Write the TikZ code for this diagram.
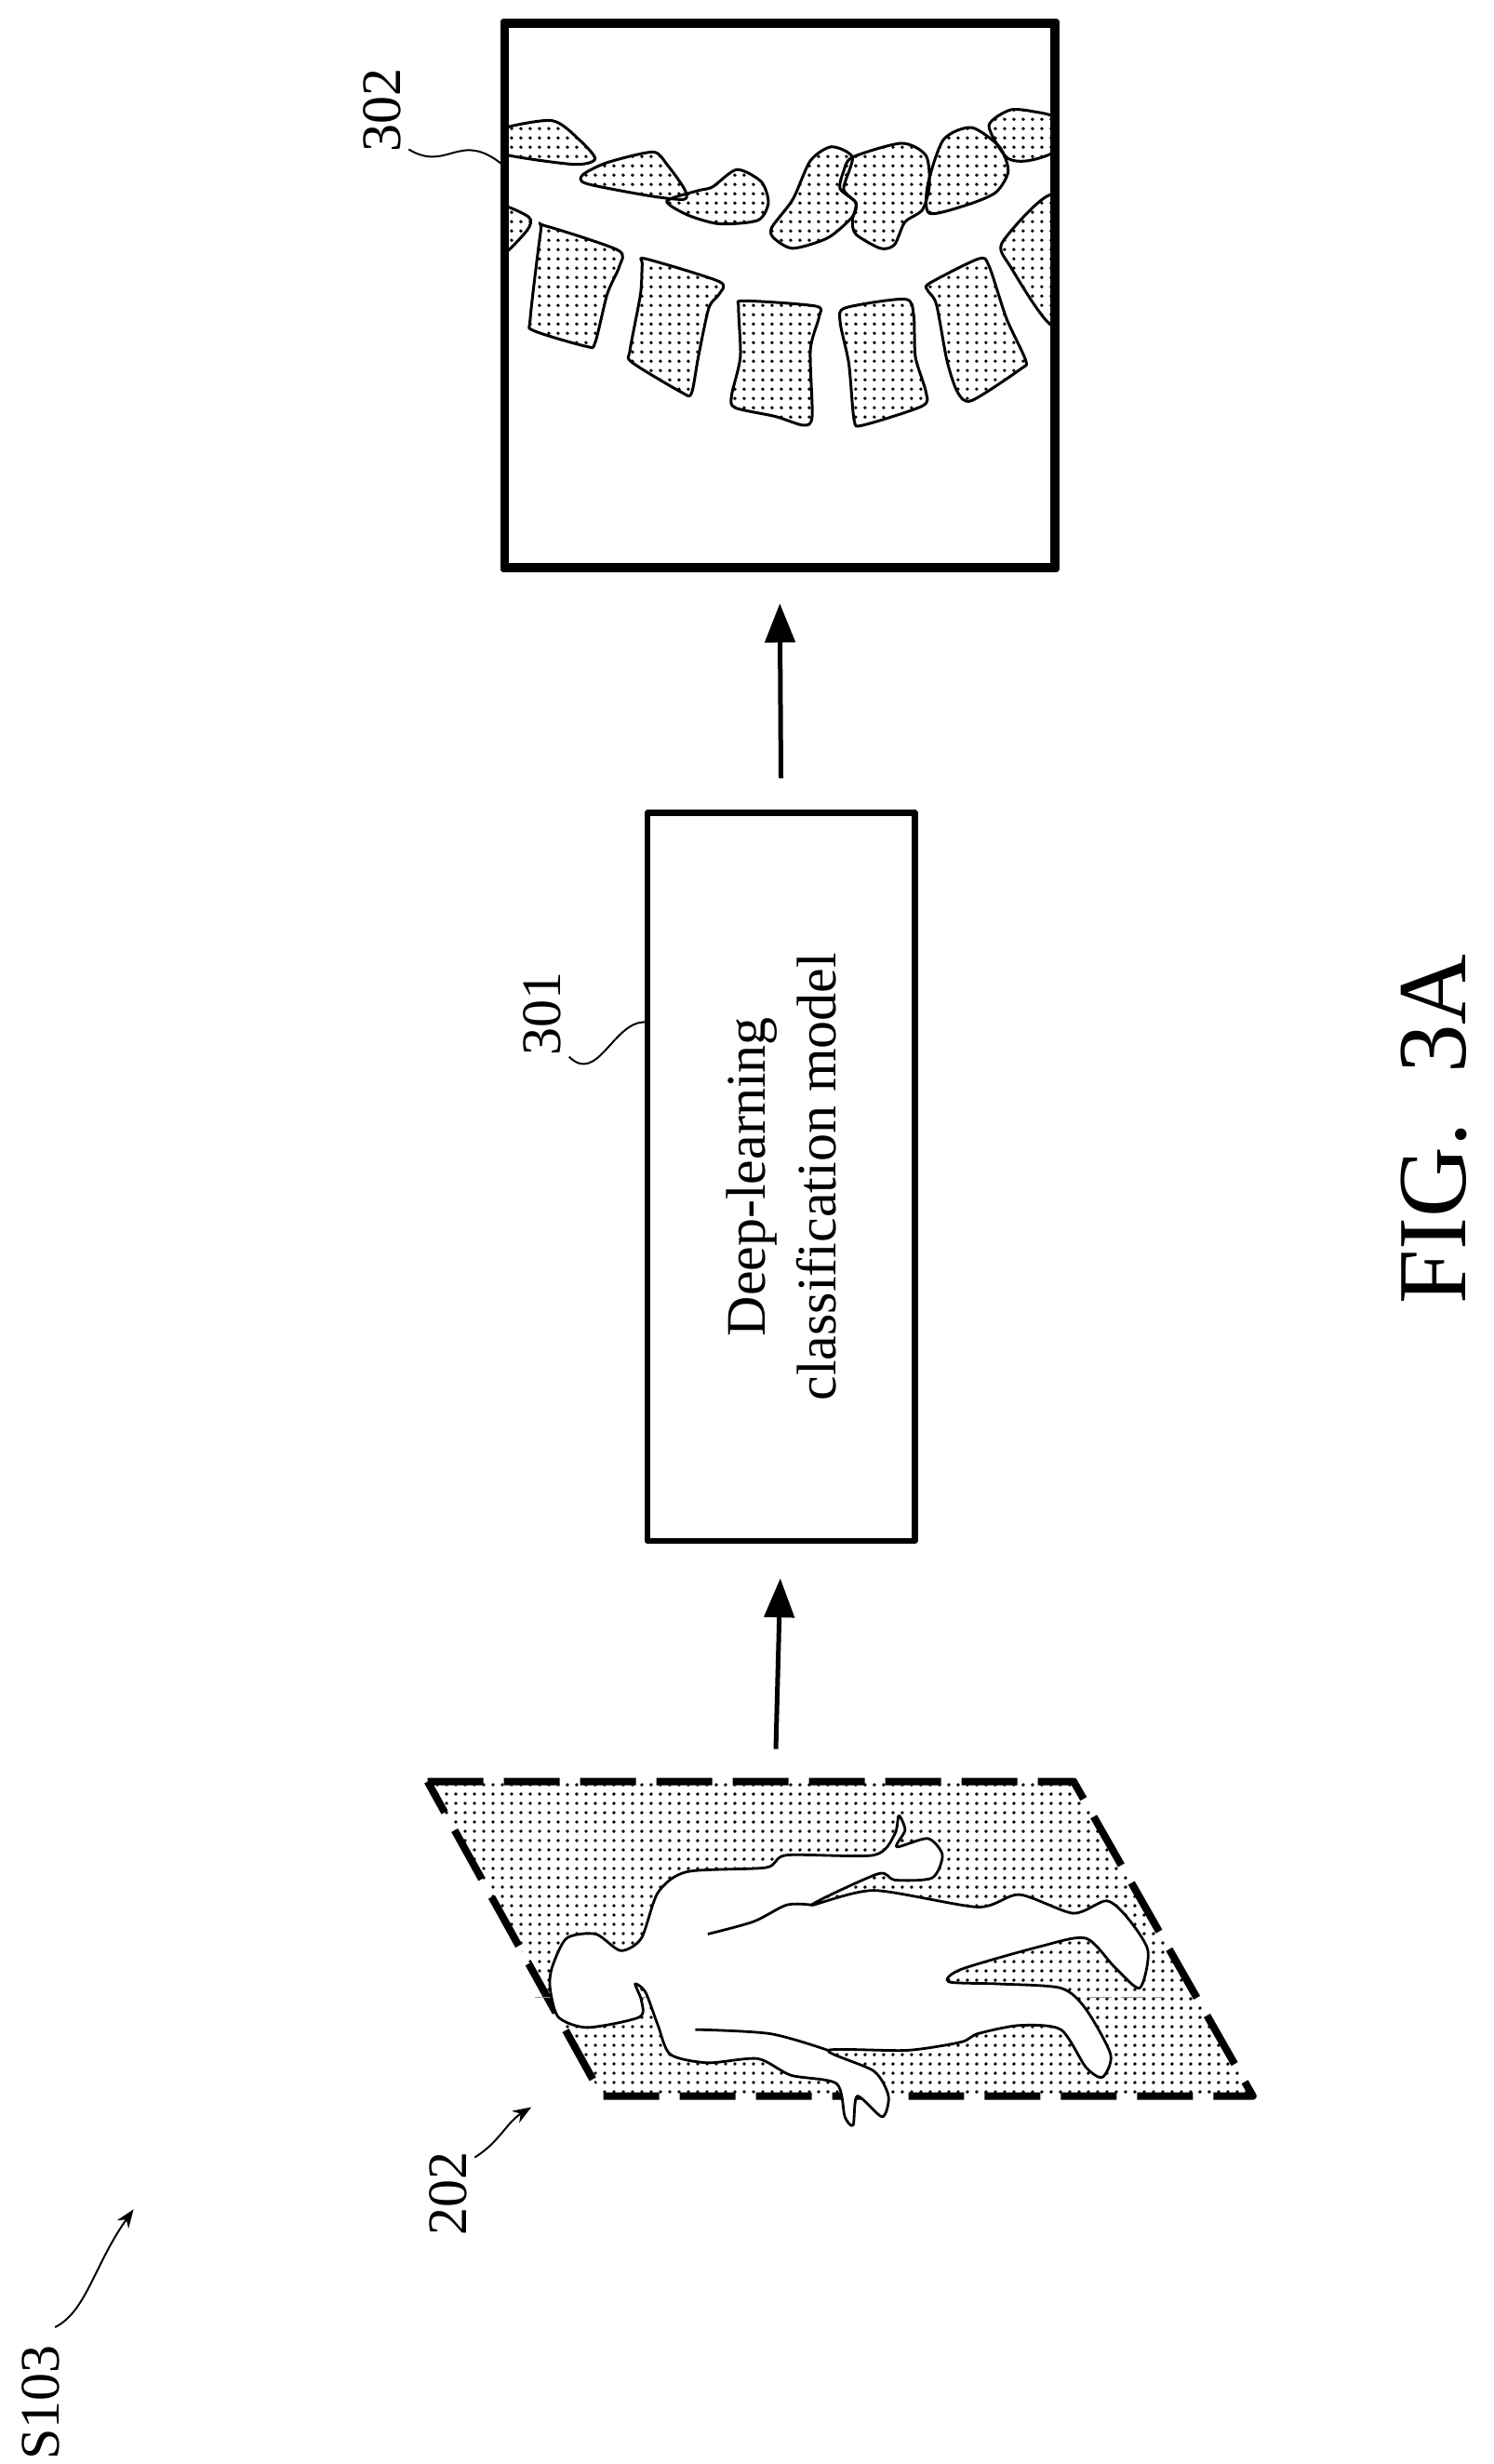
\documentclass[tikz,border=0pt]{standalone}
\usepackage{fontspec}
\setmainfont{Liberation Serif}
\usetikzlibrary{patterns.meta,arrows.meta}

\begin{document}
\begin{tikzpicture}[x=1.69pt, y=-1.69pt,
    >={Triangle[length=42pt,width=32pt]},
    line join=round,
    ]
\tikzset{
  box/.style={draw, line width=6.5pt},
  dotfill/.style={pattern={Dots[distance=10pt, radius=1.9pt]}},
  bone/.style={draw, line width=3pt, dotfill},
  lbl/.style={font=\fontsize{60}{70}\selectfont, rotate=90},
  lead/.style={line width=2pt},
  flow/.style={->, line width=5pt},
}
\useasboundingbox (0,0) rectangle (950,1567);
% -------------------------------------------------
% Output image with the spine
\node [box, minimum width=348*1.69pt, minimum height=344*1.69pt, inner sep=0pt,
  anchor=north west] (img) at (320,14) {};
\begin{scope}
  \clip (320,14) rectangle (668,358);
  \begin{scope}[shift={(319.5,53.25)}, x=0.3764pt, y=-0.3764pt]
  \foreach \p in {
    {(-20,135) (140,105) (220,160) (265,215) (200,230) (-20,195)},
    {(230,260) (300,225) (430,195) (470,230) (520,300) (520,330) (420,320) (240,285)},
    {(470,335) (560,305) (600,295) (670,245) (740,280) (760,340) (730,390) (620,400) (530,375)},
    {(770,410) (830,330) (880,220) (940,180) (1000,210) (975,300) (1010,340) (1000,380) (930,440) (830,470) (775,440)},
    {(1000,210) (1140,170) (1210,205) (1220,290) (1200,360) (1150,395) (1120,460) (1080,470) (1010,430) (1000,390) (1010,340) (965,300) (975,250)},
    {(1215,290) (1260,160) (1340,125) (1420,180) (1445,250) (1410,310) (1330,345) (1220,370)},
    {(1390,120) (1450,75) (1520,80) (1580,100) (1580,190) (1500,220) (1440,210)},
    {(-20,350) (75,380) (70,420) (-20,500)},
    {(1580,320) (1430,450) (1450,520) (1580,690)},
    {(120,405) (330,475) (335,520) (300,600) (265,740) (240,750) (90,705) (80,670) (110,420)},
    {(410,500) (620,565) (620,600) (590,640) (560,780) (540,885) (510,880) (370,795) (365,760) (395,600) (400,515)},
    {(690,620) (895,635) (905,665) (880,760) (885,950) (860,975) (780,950) (665,925) (655,890) (680,780) (675,640)},
    {(980,640) (1150,615) (1175,660) (1180,780) (1210,880) (1200,920) (1030,975) (1005,960) (990,800) (965,680)},
    {(1220,570) (1360,500) (1390,520) (1440,670) (1495,790) (1480,815) (1340,905) (1300,880) (1270,790) (1240,630) (1215,590)}}
    \draw [bone] plot [smooth cycle, tension=0.45] coordinates {\p};
  \end{scope}
\end{scope}
\draw [box] (img.north west) rectangle (img.south east);
\node [lbl] (l302) at (243,70) {302};
\draw [lead] (260,95) .. controls (285,110) and (292,82) .. (320,105);
% -------------------------------------------------
% Classification model
\node [box, minimum width=170*1.69pt, minimum height=463*1.69pt, inner sep=0pt,
  anchor=north west] (model) at (410,515) {};
\node [font=\fontsize{60}{76}\selectfont, rotate=90, align=center] at (model.center)
  {Deep-learning\\classification model};
\node [lbl] (l301) at (345,645) {301};
\draw [lead] (362,672) .. controls (380,690) and (390,650) .. (410,650);
% -------------------------------------------------
% Input image
\coordinate (p1) at (272,1133);
\coordinate (p2) at (683,1133);
\coordinate (p3) at (797,1333);
\coordinate (p4) at (383,1333);
\fill [dotfill] (p1) -- (p2) -- (p3) -- (p4) -- cycle;
\draw [line width=8pt, dash pattern=on 60pt off 22pt] (p1) -- (p2) -- (p3) -- (p4) -- cycle;
\draw [line width=1pt, black!40, dash pattern=on 25pt off 10pt] (340,1270) -- (740,1270);
\begin{scope}[shift={(331.4,1124.3)}, x=0.4464pt, y=-0.4464pt]
  \draw [line width=2.8pt, fill=white] plot [smooth cycle, tension=0.45] coordinates {
    (75,480) (110,410) (180,400) (240,440) (290,410) (330,300) (400,250) (590,240)
    (640,210) (850,210) (900,160) (910,115) (925,150) (905,190) (980,170) (1015,210)
    (990,265) (900,270) (860,255) (700,330) (850,295) (1100,335) (1200,305) (1330,350)
    (1410,320) (1460,360) (1510,440) (1490,530) (1430,480) (1360,410) (1250,430)
    (1060,485) (1030,515) (1150,520) (1300,530) (1360,580) (1420,690) (1400,745)
    (1360,720) (1300,630) (1200,620) (1100,640) (1060,660) (930,680) (740,680)
    (850,730) (885,790) (870,840) (810,790) (800,860) (780,840) (760,760) (650,740)
    (570,700) (450,710) (360,690) (330,620) (300,540) (275,520) (290,560) (285,600)
    (160,625) (90,600) (70,530)};
  \draw [line width=2.8pt] plot [smooth, tension=0.5] coordinates
    {(450,400) (560,370) (640,330) (700,330)};
  \draw [line width=2.8pt] plot [smooth, tension=0.5] coordinates
    {(420,630) (600,640) (740,680)};
\end{scope}
\node [lbl] (l202) at (285,1395) {202};
\draw [lead, ->, >={Stealth[length=20pt]}] (302,1372) .. controls (318,1362) and (322,1350) .. (338,1340);
% -------------------------------------------------
% Connectors
\draw [flow, shorten <=34pt, shorten >=37pt] (model.north) -- (img.south);
\draw [flow, shorten <=35pt, shorten >=37pt] (493,1133) -- (model.south);
% -------------------------------------------------
\node [lbl] (step) at (26,1528) {S103};
\draw [lead, ->, >={Stealth[length=20pt]}] (35,1480) .. controls (55,1470) and (60,1440) .. (85,1405);
\node [font=\fontsize{105}{115}\selectfont, rotate=90] (fig) at (912,718) {FIG.\ \ 3A};
\end{tikzpicture}
\end{document}
